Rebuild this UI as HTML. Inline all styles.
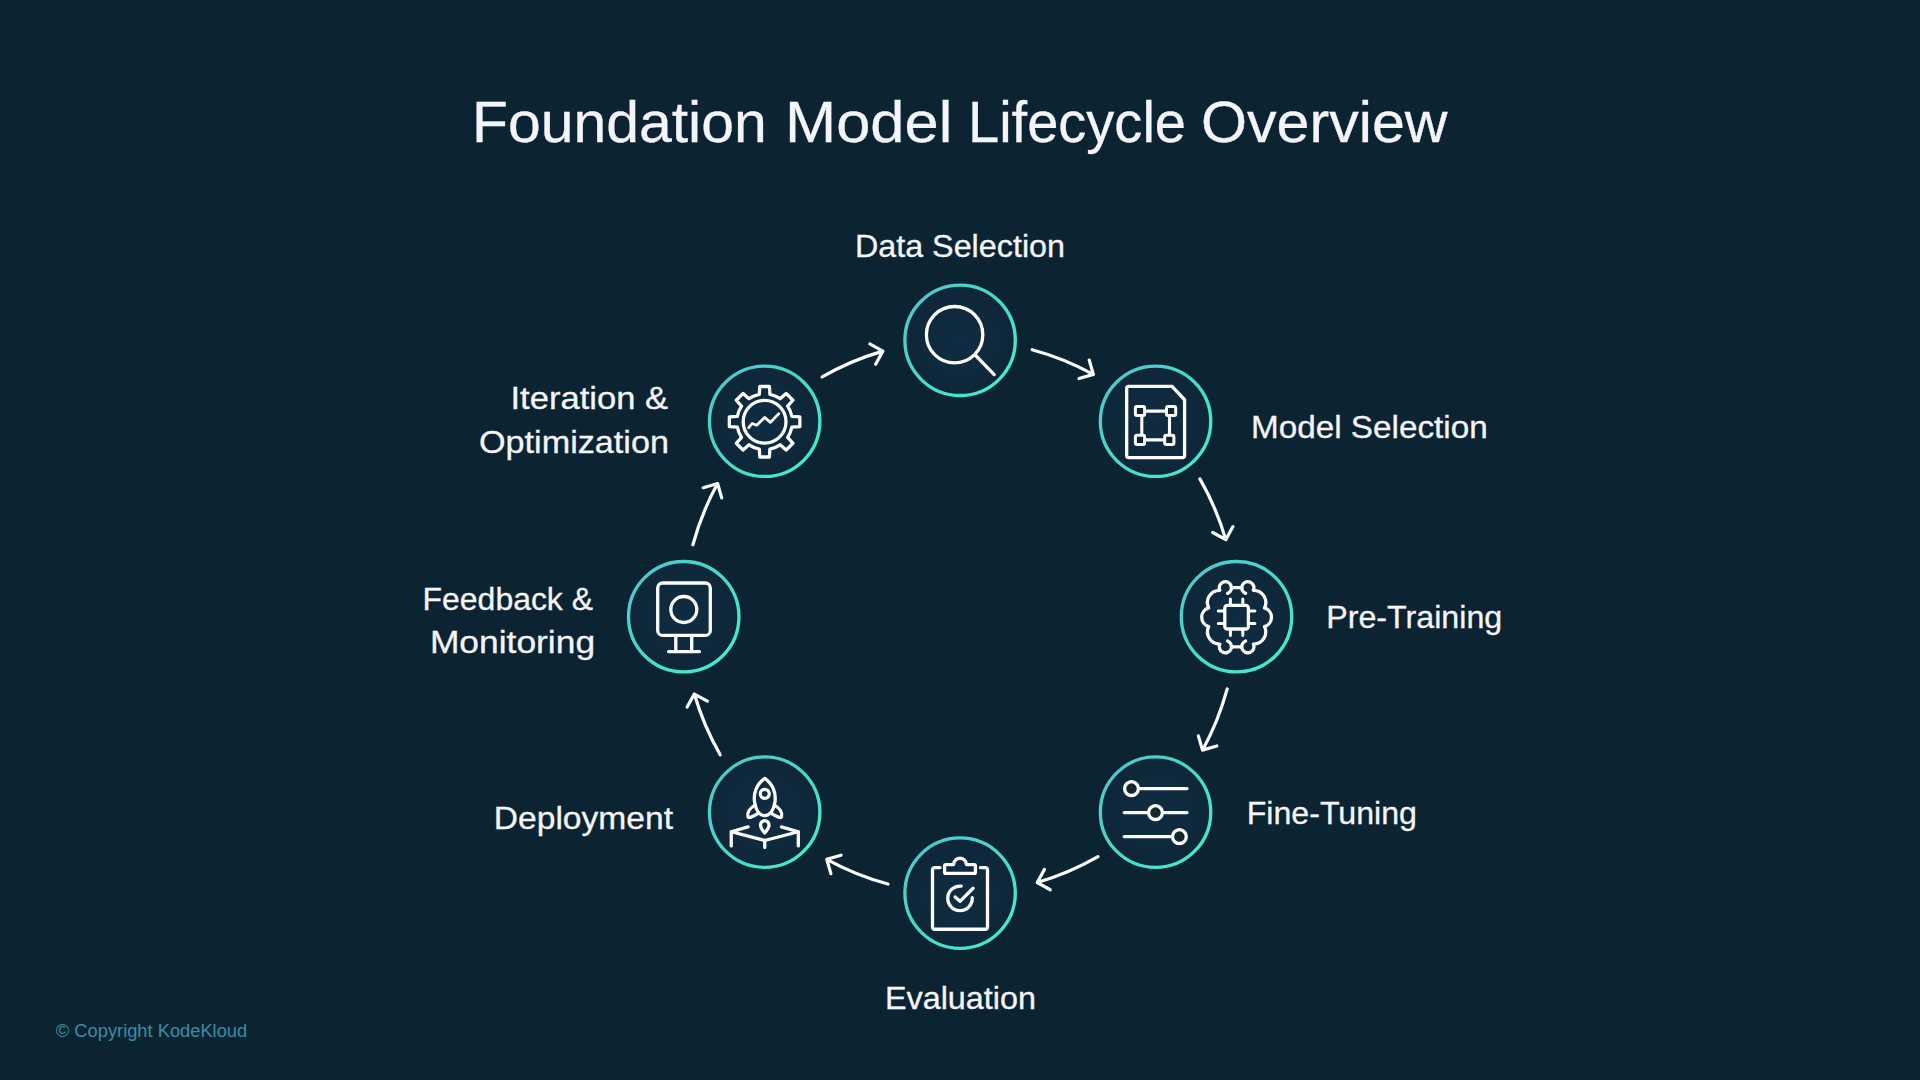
<!DOCTYPE html>
<html lang="en">
<head>
<meta charset="utf-8">
<title>Foundation Model Lifecycle Overview</title>
<style>
html,body{margin:0;padding:0;}
body{width:1920px;height:1080px;overflow:hidden;background:#0c2431;font-family:"Liberation Sans",sans-serif;}
svg{position:absolute;left:0;top:0;display:block;}
text{font-family:"Liberation Sans",sans-serif;}
.lbl{font-size:32px;fill:#f3f5fb;stroke:#f3f5fb;stroke-width:0.3px;}
.ttl{font-size:56.6px;fill:#f3f5fb;stroke:#f3f5fb;stroke-width:0.3px;}
.cpy{font-size:18px;fill:#3a8da2;}
.ic{fill:none;stroke:#fbfcff;stroke-width:3.3;stroke-linecap:round;stroke-linejoin:round;}
.ar{fill:none;stroke:#fbfcff;stroke-width:3.2;stroke-linecap:round;stroke-linejoin:round;}
</style>
</head>
<body>
<svg width="1920" height="1080" viewBox="0 0 1920 1080">
<defs>
<linearGradient id="ring" x1="0" y1="0" x2="1" y2="1">
<stop offset="0.12" stop-color="#4ecaca"/>
<stop offset="0.5" stop-color="#44dccb"/>
<stop offset="0.88" stop-color="#3fedcf"/>
</linearGradient>
<radialGradient id="disc" cx="0.5" cy="0.5" r="0.5">
<stop offset="0" stop-color="#0f2c42"/>
<stop offset="0.55" stop-color="#0f2a3e"/>
<stop offset="1" stop-color="#0e2637"/>
</radialGradient>
</defs>
<rect x="0" y="0" width="1920" height="1080" fill="#0c2431"/>
<!-- title -->
<text class="ttl" x="472" y="142" textLength="294.7" lengthAdjust="spacingAndGlyphs">Foundation</text>
<text class="ttl" x="785" y="142" textLength="167.3" lengthAdjust="spacingAndGlyphs">Model</text>
<text class="ttl" x="968" y="142" textLength="218" lengthAdjust="spacingAndGlyphs">Lifecycle</text>
<text class="ttl" x="1201" y="142" textLength="246.5" lengthAdjust="spacingAndGlyphs">Overview</text>
<!-- labels -->
<text class="lbl" x="854.9" y="256.5" textLength="210.1" lengthAdjust="spacingAndGlyphs">Data Selection</text>
<text class="lbl" x="1250.9" y="438" textLength="236.9" lengthAdjust="spacingAndGlyphs">Model Selection</text>
<text class="lbl" x="1326.2" y="628" textLength="176.1" lengthAdjust="spacingAndGlyphs">Pre-Training</text>
<text class="lbl" x="1246.7" y="823.5" textLength="170.3" lengthAdjust="spacingAndGlyphs">Fine-Tuning</text>
<text class="lbl" x="884.9" y="1009" textLength="151.1" lengthAdjust="spacingAndGlyphs">Evaluation</text>
<text class="lbl" x="493.8" y="829" textLength="179.2" lengthAdjust="spacingAndGlyphs">Deployment</text>
<text class="lbl" x="422.6" y="610" textLength="170.4" lengthAdjust="spacingAndGlyphs">Feedback &amp;</text>
<text class="lbl" x="429.9" y="653.3" textLength="165.2" lengthAdjust="spacingAndGlyphs">Monitoring</text>
<text class="lbl" x="510.5" y="409.2" textLength="157.5" lengthAdjust="spacingAndGlyphs">Iteration &amp;</text>
<text class="lbl" x="479" y="452.8" textLength="189.9" lengthAdjust="spacingAndGlyphs">Optimization</text>
<text class="cpy" x="55.8" y="1036.5" textLength="191.4" lengthAdjust="spacingAndGlyphs">© Copyright KodeKloud</text>
<!-- rings -->
<circle cx="960.1" cy="340.3" r="55.2" fill="url(#disc)" stroke="url(#ring)" stroke-width="3.3"/>
<circle cx="1155.54" cy="421.26" r="55.2" fill="url(#disc)" stroke="url(#ring)" stroke-width="3.3"/>
<circle cx="1236.5" cy="616.7" r="55.2" fill="url(#disc)" stroke="url(#ring)" stroke-width="3.3"/>
<circle cx="1155.54" cy="812.14" r="55.2" fill="url(#disc)" stroke="url(#ring)" stroke-width="3.3"/>
<circle cx="960.1" cy="893.1" r="55.2" fill="url(#disc)" stroke="url(#ring)" stroke-width="3.3"/>
<circle cx="764.66" cy="812.14" r="55.2" fill="url(#disc)" stroke="url(#ring)" stroke-width="3.3"/>
<circle cx="683.7" cy="616.7" r="55.2" fill="url(#disc)" stroke="url(#ring)" stroke-width="3.3"/>
<circle cx="764.66" cy="421.26" r="55.2" fill="url(#disc)" stroke="url(#ring)" stroke-width="3.3"/>
<!-- arrows -->
<path class="ar" d="M1032.13 349.7 A276.7 276.7 0 0 1 1093.35 374.38 M1089.19 360.07 L1093.35 374.38 L1079.04 378.53"/>
<path class="ar" d="M1199.92 478.92 A276.7 276.7 0 0 1 1225.76 539.65 M1232.94 526.6 L1225.76 539.65 L1212.71 532.48"/>
<path class="ar" d="M1227.2 688.93 A276.7 276.7 0 0 1 1202.52 750.15 M1216.83 745.99 L1202.52 750.15 L1198.37 735.84"/>
<path class="ar" d="M1097.98 856.72 A276.7 276.7 0 0 1 1037.25 882.56 M1050.3 889.74 L1037.25 882.56 L1044.42 869.51"/>
<path class="ar" d="M887.97 884 A276.7 276.7 0 0 1 826.75 859.32 M830.91 873.63 L826.75 859.32 L841.06 855.17"/>
<path class="ar" d="M720.18 754.78 A276.7 276.7 0 0 1 694.34 694.05 M687.16 707.1 L694.34 694.05 L707.39 701.22"/>
<path class="ar" d="M692.9 544.77 A276.7 276.7 0 0 1 717.58 483.55 M703.27 487.71 L717.58 483.55 L721.73 497.86"/>
<path class="ar" d="M822.12 376.98 A276.7 276.7 0 0 1 882.85 351.14 M869.8 343.96 L882.85 351.14 L875.68 364.19"/>
<!-- icons -->
<!-- 0: magnifier -->
<g class="ic">
<circle cx="954.6" cy="334.7" r="28.2"/>
<path d="M975.2 355 L994.2 374.6"/>
</g>
<!-- 1: document -->
<g class="ic">
<path d="M1128.75 386.42 L1172.08 386.42 L1184.58 399.75 L1184.58 455.58 Q1184.58 457.67 1182.5 457.67 L1128.75 457.67 Q1126.67 457.67 1126.67 455.58 L1126.67 388.5 Q1126.67 386.42 1128.75 386.42 Z"/>
<rect stroke-width="3" fill="#15242d" x="1135.4" y="406.4" width="9.2" height="9.2" rx="1.5"/>
<rect stroke-width="3" fill="#15242d" x="1166.5" y="406.4" width="9.2" height="9.2" rx="1.5"/>
<rect stroke-width="3" fill="#15242d" x="1135.4" y="435.2" width="9.2" height="9.2" rx="1.5"/>
<rect stroke-width="3" fill="#15242d" x="1164.7" y="435.2" width="9.2" height="9.2" rx="1.5"/>
<path stroke-width="3.1" stroke-linecap="butt" d="M1144.6 411.1 H1166.5 M1144.6 439.9 H1164.7 M1141.8 415.6 V435.2 M1169.5 415.6 V435.2"/>
</g>
<!-- 2: brain chip -->
<g class="ic" transform="translate(1236.6 617.2)">
<path d="M-8.96 -23.84 A6.1 6.1 0 1 0 -16.78 -26.92 A12.2 12.2 0 0 0 -27.9 -9.3 A9.75 9.75 0 0 0 -27.9 9.4 A12.2 12.2 0 0 0 -16.78 26.92 A6.1 6.1 0 1 0 -8.96 23.84"/>
<path transform="scale(-1 1)" d="M-8.96 -23.84 A6.1 6.1 0 1 0 -16.78 -26.92 A12.2 12.2 0 0 0 -27.9 -9.3 A9.75 9.75 0 0 0 -27.9 9.4 A12.2 12.2 0 0 0 -16.78 26.92 A6.1 6.1 0 1 0 -8.96 23.84"/>
<path d="M-5.2 -29.6 L5.2 -29.6 M-5.2 29.6 L5.2 29.6"/>
<rect x="-11.8" y="-11.8" width="23.6" height="23.6" rx="2.6"/>
<path stroke-width="3" d="M-6.2 -12 V-18.3 M6.2 -12 V-18.3 M-6.2 12 V18.3 M6.2 12 V18.3 M-12 -6.2 H-18.3 M-12 6.2 H-18.3 M12 -6.2 H18.3 M12 6.2 H18.3"/>
</g>
<!-- 3: sliders -->
<g class="ic">
<path d="M1140 788.6 H1187 M1124.2 812.6 H1147 M1164 812.6 H1187 M1124.2 836.6 H1171"/>
<circle cx="1131.5" cy="788.6" r="6.9" fill="#13252f"/>
<circle cx="1155.5" cy="812.6" r="6.9" fill="#13252f"/>
<circle cx="1179.4" cy="836.6" r="6.9" fill="#13252f"/>
</g>
<!-- 4: clipboard -->
<g class="ic">
<path d="M940 867.58 L935 867.58 Q932.5 867.58 932.5 870.08 L932.5 926.75 Q932.5 929.25 935 929.25 L985 929.25 Q987.5 929.25 987.5 926.75 L987.5 870.08 Q987.5 867.58 985 867.58 L980.42 867.58"/>
<path d="M945.83 864.67 L952.33 864.67 Q953.67 864.67 953.83 863.5 A6.25 6.25 0 0 1 966.17 863.5 Q966.33 864.67 967.67 864.67 L974.17 864.67 Q975.42 864.67 975.42 865.92 L975.42 872.17 Q975.42 873.42 974.17 873.42 L945.83 873.42 Q944.58 873.42 944.58 872.17 L944.58 865.92 Q944.58 864.67 945.83 864.67 Z"/>
<path d="M961.25 886.17 A12.25 12.25 0 1 0 972.25 897.75"/>
<path d="M955.17 896.92 L960 901.33 L973.08 888.25"/>
</g>
<!-- 5: rocket -->
<g class="ic">
<path d="M764.75 778.42 C772.08 783.42 777.08 793 774.58 803.83 C773.33 810.08 770 815.67 764.75 815.67 C759.5 815.67 756.17 810.08 754.92 803.83 C752.42 793 757.42 783.42 764.75 778.42 Z"/>
<circle cx="764.75" cy="793.83" r="4.5"/>
<path d="M755 805.08 C750 808 746.83 812.58 747.92 816.75 C748.58 818.58 752.08 817.17 758.17 813.42"/>
<path d="M774.5 805.08 C779.5 808 782.67 812.58 781.58 816.75 C780.92 818.58 777.42 817.17 771.33 813.42"/>
<path d="M764.75 833 C761.67 829.67 760.5 827.33 760.5 825.08 C760.5 822.58 762.33 820.75 764.75 820.75 C767.17 820.75 769 822.58 769 825.08 C769 827.33 767.83 829.67 764.75 833 Z"/>
<path d="M748.17 826.92 L731.25 831.75 L764.75 840.5 L798.33 831.75 L781.42 826.92 M731.25 831.75 L731.25 845.92 M764.75 840.5 L764.75 847.58 M798.33 831.75 L798.33 845.92"/>
</g>
<!-- 6: monitor -->
<g class="ic">
<rect x="657.7" y="583" width="52.6" height="52.4" rx="5"/>
<circle cx="683.8" cy="609.5" r="13"/>
<path d="M675.8 637 V651 M691.7 637 V651 M668.5 651.6 H699.5"/>
</g>
<!-- 7: gear -->
<g class="ic">
<path d="M759.3 394.46 L759.8 386.5 L769.4 386.5 L769.9 394.46 A27.8 27.8 0 0 1 780.15 398.7 L786.13 393.43 L792.92 400.22 L787.65 406.2 A27.8 27.8 0 0 1 791.89 416.45 L799.85 416.95 L799.85 426.55 L791.89 427.05 A27.8 27.8 0 0 1 787.65 437.3 L792.92 443.28 L786.13 450.07 L780.15 444.8 A27.8 27.8 0 0 1 769.9 449.04 L769.4 457 L759.8 457 L759.3 449.04 A27.8 27.8 0 0 1 749.05 444.8 L743.07 450.07 L736.28 443.28 L741.55 437.3 A27.8 27.8 0 0 1 737.31 427.05 L729.35 426.55 L729.35 416.95 L737.31 416.45 A27.8 27.8 0 0 1 741.55 406.2 L736.28 400.22 L743.07 393.43 L749.05 398.7 A27.8 27.8 0 0 1 759.3 394.46 Z"/>
<circle cx="764.6" cy="421.75" r="21.4"/>
<path stroke-width="2.8" d="M748.75 427.7 L752.1 423.5 L756.7 425.3 L764.6 417.4 L770.4 422.4 L778.75 413.7"/>
</g>
</svg>
</body>
</html>
